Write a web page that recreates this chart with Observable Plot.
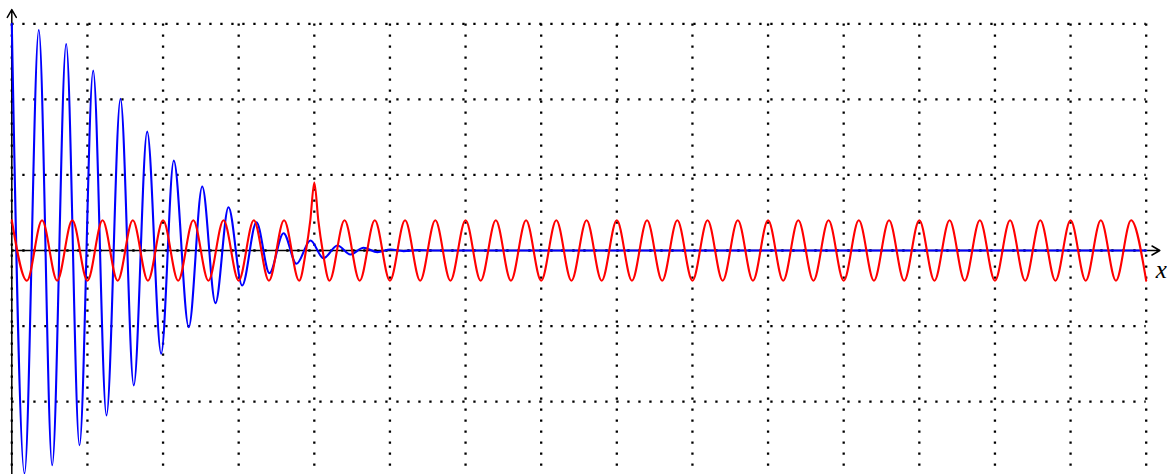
<!DOCTYPE html>
<html>
<head>
<meta charset="utf-8">
<script src="https://cdn.jsdelivr.net/npm/d3@7"></script>
<script src="https://cdn.jsdelivr.net/npm/@observablehq/plot@0.6"></script>
<style>
  html, body { margin: 0; padding: 0; background: #fff; }
  #chart svg { display: block; }
</style>
</head>
<body>
<div id="chart"></div>
<script>
// Grid positions (units)
const gridX = [0,1,2,3,4,5,6,7,8,9,10,11,12,13,14,15];
const gridY = [-3,-2,-1,0,1,2,3];

// Blue damped oscillation: extrema
const blueX = [0,0.168,0.357,0.534,0.719,0.895,1.076,1.252,1.437,1.613,1.790,1.975,2.142,2.340,2.518,2.693,2.865,3.046,3.235,3.407,3.593,3.764,3.949,4.121,4.306,4.478,4.650,4.835,5.007,5.18,5.36,5.55,15];
const blueY = [3.0,-2.954,2.919,-2.844,2.734,-2.579,2.381,-2.183,2.007,-1.786,1.574,-1.366,1.190,-1.015,0.847,-0.697,0.573,-0.463,0.374,-0.300,0.229,-0.176,0.132,-0.102,0.066,-0.053,0.036,-0.022,0.013,-0.008,0.005,0,0];

// Red oscillation with a spike at x = 4: extrema
const redX = [0,0.2,0.4,0.6,0.8,1,1.2,1.4,1.6,1.8,2,2.2,2.4,2.6,2.8,3,3.2,3.4,3.6,3.8,
  3.89,3.947,4,4.053,4.11,
  4.2,4.4,4.6,4.8,5,5.2,5.4,5.6,5.8,6,
  6.2,6.4,6.6,6.8,7,7.2,7.4,7.6,7.8,8,
  8.2,8.4,8.6,8.8,9,9.2,9.4,9.6,9.8,10,
  10.2,10.4,10.6,10.8,11,11.2,11.4,11.6,11.8,12,
  12.2,12.4,12.6,12.8,13,13.2,13.4,13.6,13.8,14,
  14.2,14.4,14.6,14.8,15];
const redY = [0.4,-0.4,0.4,-0.4,0.4,-0.4,0.4,-0.4,0.4,-0.4,
  0.4,-0.4,0.4,-0.4,0.4,-0.4,0.4,-0.4,0.4,-0.4,
  0,0.4,0.9,0.4,0,
  -0.4,0.4,-0.4,0.4,-0.4,0.4,-0.4,0.4,-0.4,0.4,
  -0.4,0.4,-0.4,0.4,-0.4,0.4,-0.4,0.4,-0.4,0.4,
  -0.4,0.4,-0.4,0.4,-0.4,0.4,-0.4,0.4,-0.4,0.4,
  -0.4,0.4,-0.4,0.4,-0.4,0.4,-0.4,0.4,-0.4,0.4,
  -0.4,0.4,-0.4,0.4,-0.4,0.4,-0.4,0.4,-0.4,0.4,
  -0.4,0.4,-0.4,0.4,-0.4];

const axisLabel = ["x"];

const blue = blueX.map((x, i) => ({x, y: blueY[i]}));
const red = redX.map((x, i) => ({x, y: redY[i]}));

const dotted = {stroke: "black", strokeWidth: 2.3, strokeDasharray: "2.3 8.7"};

const chart = Plot.plot({
  width: 1167,
  height: 474,
  margin: 0,
  style: {background: "#fff", overflow: "visible"},
  x: {domain: [0, 15], range: [11.3, 1145.7], axis: null},
  y: {domain: [-3, 3], range: [476.6, 23.4], axis: null},
  marks: [
    Plot.ruleX(gridX, {x: d => d, y1: 3, y2: -3.1, ...dotted}),
    Plot.ruleY(gridY, {y: d => d, x1: 0, x2: 15, ...dotted}),
    Plot.arrow([0], {x1: 0, y1: -3.1, x2: 0, y2: 3.19, stroke: "black", strokeWidth: 1.5, headLength: 9, headAngle: 60}),
    Plot.arrow([0], {x1: 0, y1: 0, x2: 15.18, y2: 0, stroke: "black", strokeWidth: 1.5, headLength: 9, headAngle: 60}),
    Plot.line(blue, {x: "x", y: "y", stroke: "#0000ff", strokeWidth: 2.1, curve: "monotone-x"}),
    Plot.line(red, {x: "x", y: "y", stroke: "#ff0000", strokeWidth: 2.1, curve: "monotone-x"}),
    Plot.text(axisLabel, {x: 15.2, y: -0.26, text: d => d, fontStyle: "italic", fontFamily: "Liberation Serif", fontSize: 25, fill: "black", textAnchor: "middle", lineAnchor: "middle"})
  ]
});
document.getElementById("chart").appendChild(chart);
</script>
</body>
</html>
